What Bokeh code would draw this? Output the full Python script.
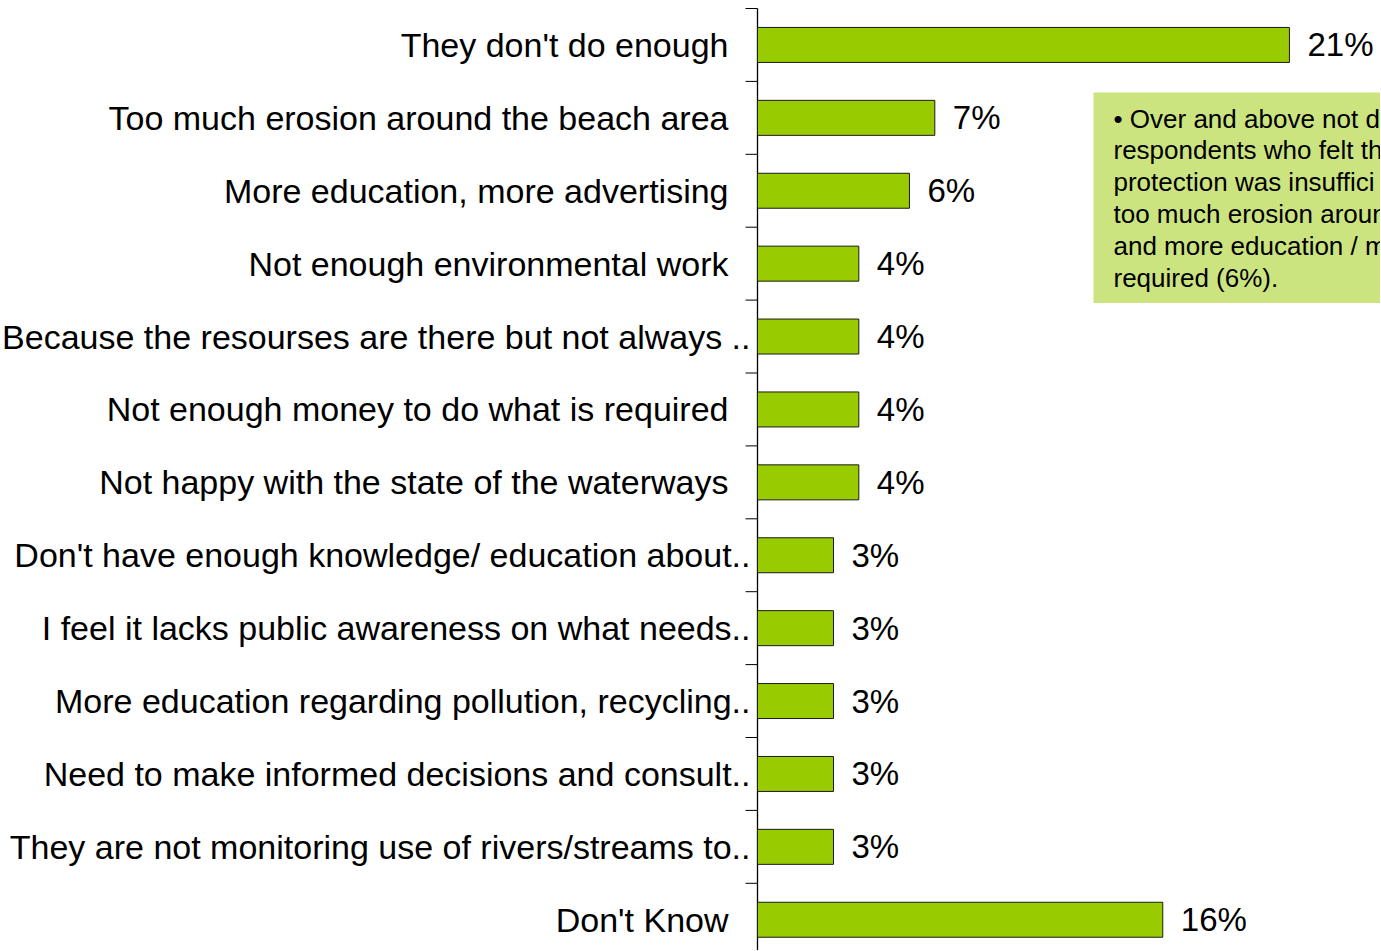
from bokeh.plotting import figure
from bokeh.models import Range1d, ColumnDataSource, Label
from bokeh.core.properties import value
from bokeh.embed import file_html
from bokeh.resources import INLINE

categories = [
    "They don't do enough",
    "Too much erosion around the beach area",
    "More education, more advertising",
    "Not enough environmental work",
    "Because the resourses are there but not always ..",
    "Not enough money to do what is required",
    "Not happy with the state of the waterways",
    "Don't have enough knowledge/ education about..",
    "I feel it lacks public awareness on what needs..",
    "More education regarding pollution, recycling..",
    "Need to make informed decisions and consult..",
    "They are not monitoring use of rivers/streams to..",
    "Don't Know",
]
values = [21, 7, 6, 4, 4, 4, 4, 3, 3, 3, 3, 3, 16]
note_lines = [
    "\u2022 Over and above not d",
    "respondents who felt th",
    "protection was insuffici",
    "too much erosion aroun",
    "and more education / m",
    "required (6%).",
]

FONT = "Liberation Sans"
W, H = 1380, 950
AXIS_X = 757        # pixel position of the category axis
TOP = 8             # pixel position of the first category boundary
row_px = 72.9
px_per_pct = 25.33
tick_px = 12

n = len(categories)
idx = list(range(n))
src = ColumnDataSource(dict(
    y=idx,
    v=values,
    cat=categories,
    pct=[f"{v}%" for v in values],
    off=[-7 if c.endswith("..") else -29 for c in categories],
))

y_top = -0.5 - TOP / row_px
p = figure(width=W, height=H, output_backend="svg", toolbar_location=None,
           x_axis_location=None, y_axis_location=None,
           x_range=Range1d(-AXIS_X / px_per_pct, (W - AXIS_X) / px_per_pct),
           y_range=Range1d(y_top + H / row_px, y_top),
           min_border_left=0, min_border_right=0, min_border_top=0, min_border_bottom=0)
p.outline_line_color = None
p.xgrid.visible = False
p.ygrid.visible = False
p.background_fill_color = "white"

# category axis line and boundary ticks
bounds = [i - 0.5 for i in range(n + 1)]
p.segment(x0=[0], y0=[bounds[0]], x1=[0], y1=[bounds[-1]], line_color="black", line_width=1.3)
p.segment(x0=[-tick_px / px_per_pct] * len(bounds), y0=bounds, x1=[0] * len(bounds), y1=bounds,
          line_color="black", line_width=1)

p.hbar(y="y", left=0, right="v", height=0.48, source=src,
       fill_color="#99CC00", line_color="#1a1a1a", line_width=1)

p.text(x=0, y="y", text="cat", x_offset="off", source=src,
       text_align="right", text_baseline="middle",
       text_font=value(FONT), text_font_size="34px", text_color="black")

p.text(x="v", y="y", text="pct", x_offset=18, source=src,
       text_align="left", text_baseline="middle",
       text_font=value(FONT), text_font_size="33px", text_color="black")

note = Label(x=1093, y=H - 92, x_units="screen", y_units="screen",
             text="\n".join(note_lines), text_font=FONT, text_font_size="26px",
             text_line_height=1.064, text_align="left", text_baseline="top",
             text_color="black", background_fill_color="#CCE480",
             padding=dict(left=20, right=20, top=11, bottom=10))
p.add_layout(note)

open("out.html", "w").write(file_html(p, INLINE))
